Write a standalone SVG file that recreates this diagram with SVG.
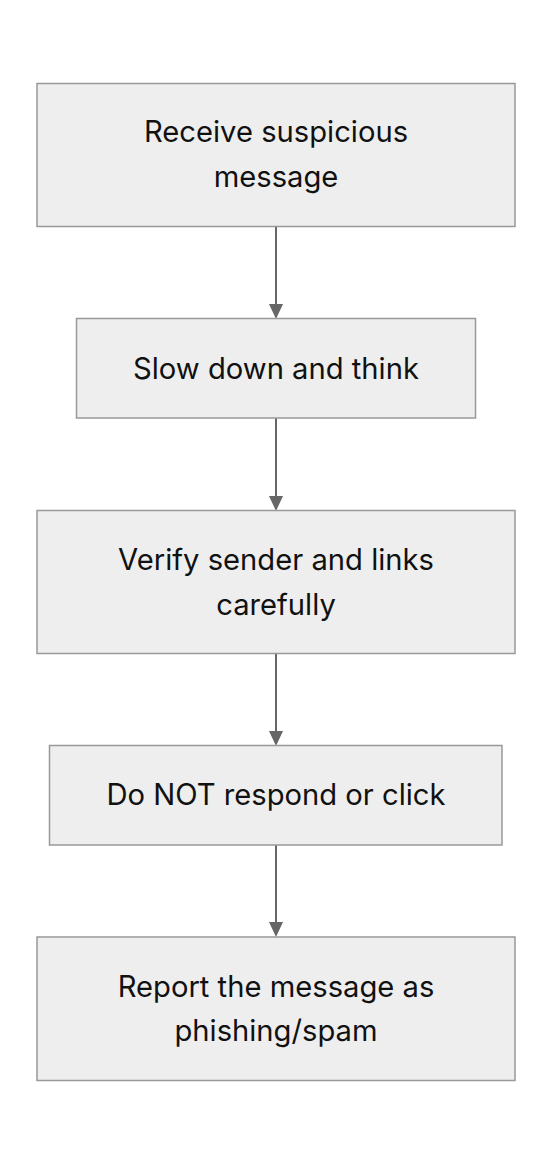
<svg xmlns="http://www.w3.org/2000/svg" width="552" height="1164" viewBox="0 0 552 1164">
<style>
.box{fill:#eeeeee;stroke:#999999;stroke-width:1.5}
.lbl{font-family:Inter,"Noto Sans","Liberation Sans",sans-serif;font-size:29.2px;fill:#111111;text-anchor:middle}
.edge{stroke:#666666;stroke-width:2;fill:none}
.head{fill:#666666}
</style>
<rect width="552" height="1164" fill="#ffffff"/>
<g id="connectors">
<line class="edge" x1="276" y1="227" x2="276" y2="304"/>
<path class="head" d="M269,304 L283,304 L276,319 Z"/>
<line class="edge" x1="276" y1="418" x2="276" y2="496"/>
<path class="head" d="M269,496 L283,496 L276,511 Z"/>
<line class="edge" x1="276" y1="654" x2="276" y2="731"/>
<path class="head" d="M269,731 L283,731 L276,746 Z"/>
<line class="edge" x1="276" y1="845" x2="276" y2="922"/>
<path class="head" d="M269,922 L283,922 L276,937 Z"/>
</g>
<g id="n1">
<rect class="box" x="37" y="83.5" width="478" height="143"/>
<text class="lbl" x="276" y="142">Receive suspicious</text>
<text class="lbl" x="276" y="187">message</text>
</g>
<g id="n2">
<rect class="box" x="76.5" y="318.5" width="399" height="99.5"/>
<text class="lbl" x="276" y="378.5">Slow down and think</text>
</g>
<g id="n3">
<rect class="box" x="37" y="510.5" width="478" height="143"/>
<text class="lbl" x="276" y="570">Verify sender and links</text>
<text class="lbl" x="276" y="614.5">carefully</text>
</g>
<g id="n4">
<rect class="box" x="49.5" y="745.5" width="452.5" height="99.5"/>
<text class="lbl" x="276" y="805">Do NOT respond or click</text>
</g>
<g id="n5">
<rect class="box" x="37" y="937" width="478" height="143.5"/>
<text class="lbl" x="276" y="997">Report the message as</text>
<text class="lbl" x="276" y="1041">phishing/spam</text>
</g>
</svg>
